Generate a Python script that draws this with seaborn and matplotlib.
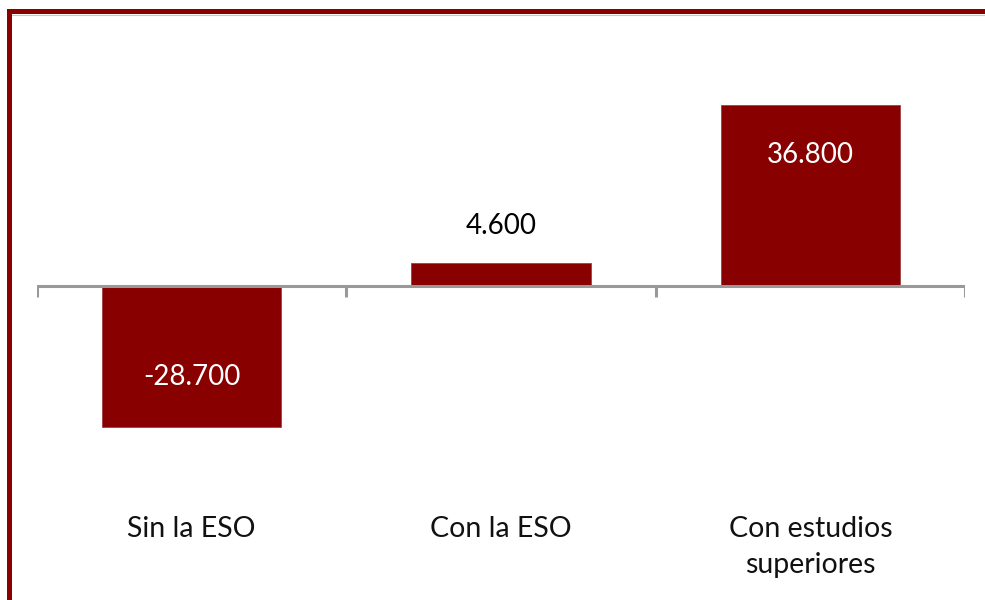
import matplotlib
matplotlib.use('Agg')
import matplotlib.pyplot as plt
import seaborn as sns
from matplotlib.lines import Line2D

# datos
categorias = ['Sin la ESO', 'Con la ESO', 'Con estudios\nsuperiores']
valores = [-28700, 4600, 36800]
etiquetas = ['-28.700', '4.600', '36.800']

rojo = '#880000'
gris = '#999999'

sns.set_style('white')
plt.rcParams['font.family'] = ['Lato', 'DejaVu Sans']

fig = plt.figure(figsize=(9.85, 6.0), dpi=100)
W, H = 985, 600
ax = fig.add_axes([37 / W, 1 - 505 / H, (965 - 37) / W, (505 - 30) / H])

sns.barplot(x=categorias, y=valores, color=rojo, saturation=1, width=0.58,
            edgecolor='#a04040', linewidth=0.6, ax=ax)

ax.set_xlim(-0.5, 2.5)
ax.set_ylim(-44500, 52000)

# eje en cero con marcas entre categorias
ax.axhline(0, color=gris, lw=2.2, zorder=1)
ax.vlines([-0.5, 0.5, 1.5, 2.5], -2200, 0, color=gris, lw=2.2, zorder=1)

# etiquetas de valor
for i, (v, txt) in enumerate(zip(valores, etiquetas)):
    if abs(v) > 10000:
        off = -50 if v > 0 else 50
        col = 'white'
    else:
        off = 37
        col = 'black'
    ax.annotate(txt, (i, v), xytext=(0, off * 0.72), textcoords='offset points',
                ha='center', va='center', color=col, fontsize=20)

for s in ax.spines.values():
    s.set_visible(False)
ax.set_yticks([])
ax.set_xticks(range(len(categorias)))
ax.set_xticklabels(categorias, fontsize=20.5, color='#111111', linespacing=1.45)
ax.tick_params(axis='x', length=0, pad=8)
ax.set_xlabel('')
ax.set_ylabel('')

# marco rojo
fig.add_artist(Line2D([9 / W, 9 / W], [0, 1 - 11 / H], color=rojo, lw=3.6,
                      transform=fig.transFigure, solid_capstyle='projecting'))
fig.add_artist(Line2D([9 / W, 1.0], [1 - 11 / H, 1 - 11 / H], color=rojo, lw=3.6,
                      transform=fig.transFigure, solid_capstyle='projecting'))
fig.add_artist(Line2D([12 / W, 1.0], [1 - 14.5 / H, 1 - 14.5 / H], color='#c8c8c8',
                      lw=0.8, transform=fig.transFigure))

plt.savefig('out.png', dpi=100)
